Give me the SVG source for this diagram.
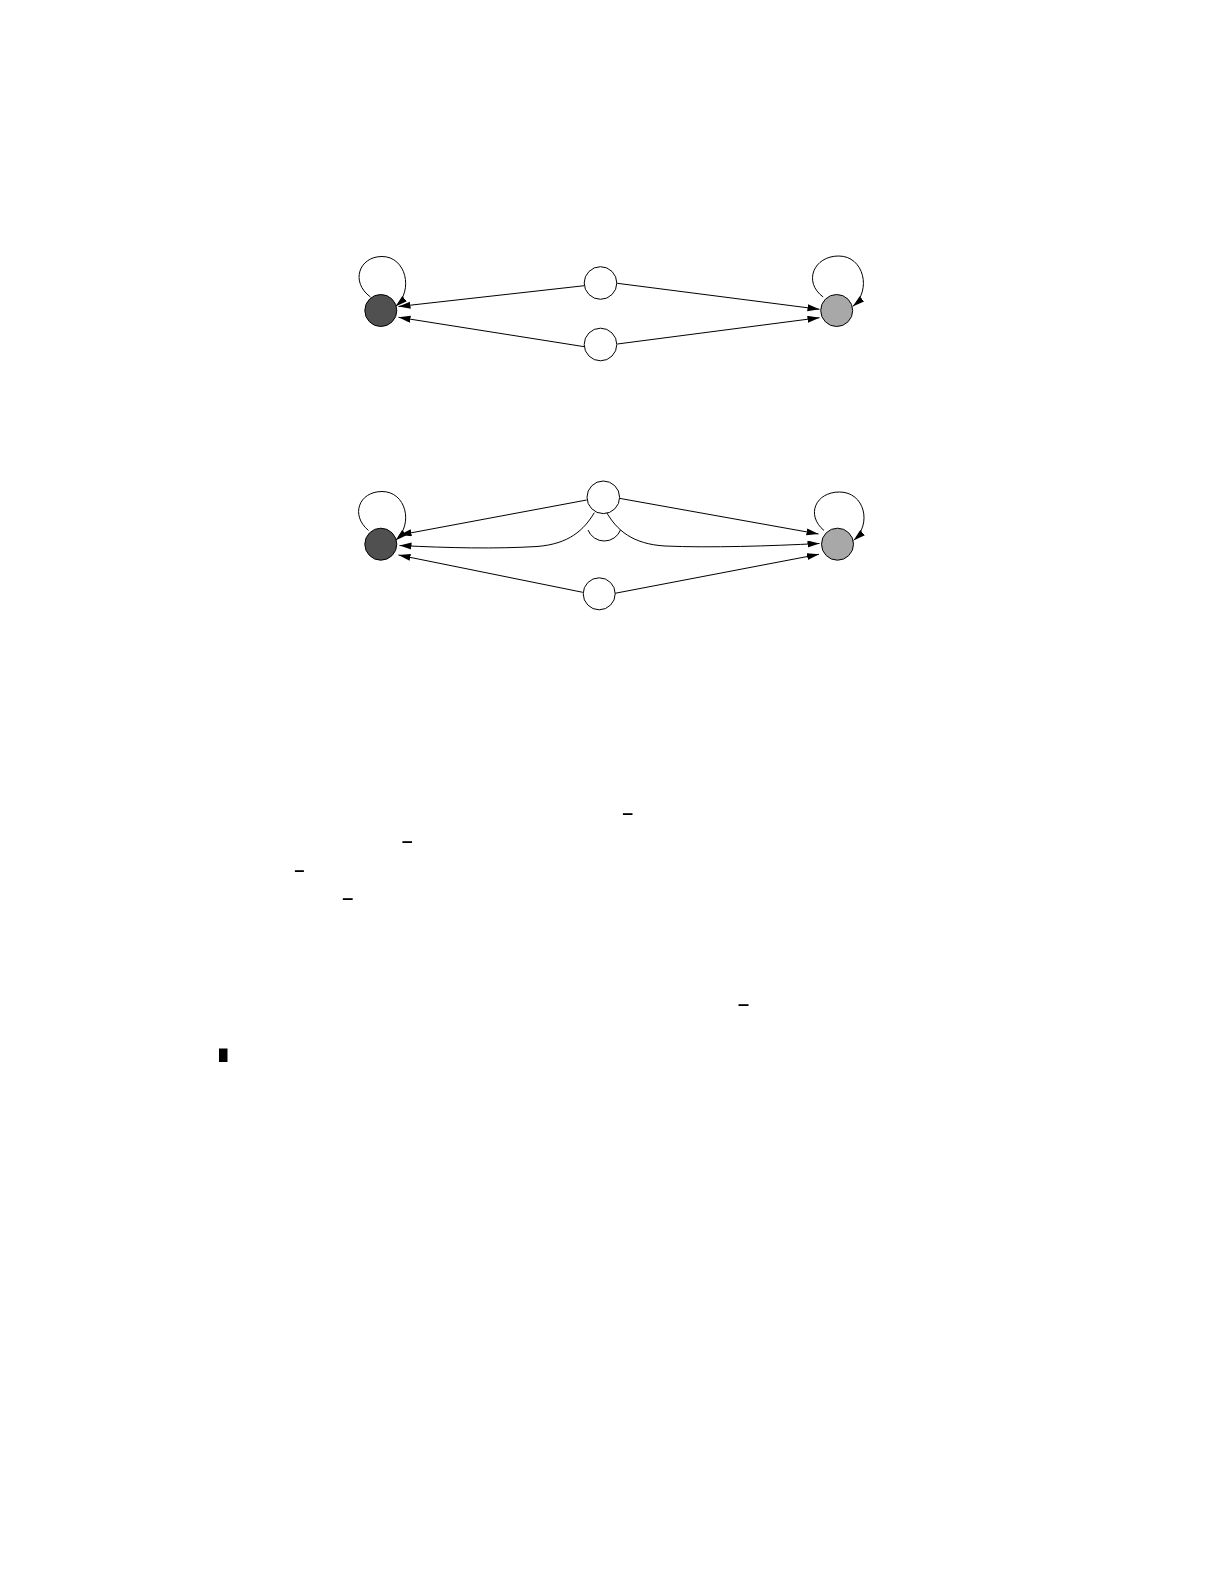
<svg xmlns="http://www.w3.org/2000/svg" width="1225" height="1585" viewBox="0 0 1225 1585">
<style>
.n{stroke:#000;stroke-width:1}
.w{fill:#fff}
.d{fill:#505050}
.l{fill:#a8a8a8}
.e{fill:none;stroke:#000;stroke-width:1}
.a{marker-end:url(#ah)}
.m{fill:#000}
</style>
<defs>
<marker id="ah" markerUnits="userSpaceOnUse" markerWidth="13" markerHeight="8" refX="12" refY="3.5" orient="auto">
<path d="M0,0 L12,3.5 L0,7 z" fill="#000"/>
</marker>
</defs>
<rect width="1225" height="1585" fill="#fff"/>
<g id="connectors">
<!-- diagram 1 -->
<path class="e a" d="M370.5,297 C350,282 359,256.5 382,256.5 C406,256.5 414,290.5 395.5,306.5"/>
<path class="e a" d="M823.2,297 C802.7,282 813.7,256 838.7,256 C864,256 872,290.5 852.7,306.5"/>
<path class="e a" d="M584.3,285.7 L398.5,306.5"/>
<path class="e a" d="M584.3,346.7 L398.5,317.3"/>
<path class="e a" d="M617.3,283.3 L819.5,309.3"/>
<path class="e a" d="M617.3,344 L819.5,317.7"/>
<!-- diagram 2 -->
<path class="e a" d="M368.5,530.5 C350,515 359,491.5 382,491.5 C406,491.5 414,524 395.5,540.5"/>
<path class="e a" d="M824,530.5 C805.5,515 815.5,492 839.5,492 C864.5,492 872.5,524 853.5,540.5"/>
<path class="e a" d="M586.7,500 L399.5,535"/>
<path class="e a" d="M594.3,512.7 C584,530 569,544 537,546.5 C495,549 450,548 399.5,545.5"/>
<path class="e a" d="M606.7,512.7 C617,530 632,544 665,546 C710,548 770,546 819.5,543.5"/>
<path class="e" d="M588,530 A17.5,17.5 0 0 0 620.5,530"/>
<path class="e a" d="M619.3,498.3 L818.5,534"/>
<path class="e a" d="M582.7,592.3 L398.5,555"/>
<path class="e a" d="M615,593.3 L819,554.3"/>
</g>
<g id="d1-dark"><circle class="n d" cx="380.8" cy="310.5" r="16"/></g>
<g id="d1-light"><circle class="n l" cx="836.7" cy="310.5" r="16"/></g>
<g id="d1-top"><circle class="n w" cx="600.5" cy="283" r="16.3"/></g>
<g id="d1-bottom"><circle class="n w" cx="600.5" cy="344.5" r="16.3"/></g>
<g id="d2-dark"><circle class="n d" cx="380.8" cy="544.2" r="16"/></g>
<g id="d2-light"><circle class="n l" cx="837.5" cy="544.2" r="16"/></g>
<g id="d2-top"><circle class="n w" cx="603.3" cy="497.3" r="16.3"/></g>
<g id="d2-bottom"><circle class="n w" cx="599.2" cy="593.8" r="16"/></g>
<g id="marks">
<rect class="m" x="622.9" y="813.2" width="9.6" height="1.8"/>
<rect class="m" x="402.4" y="841.2" width="9.6" height="1.8"/>
<rect class="m" x="294.9" y="870.2" width="9" height="1.8"/>
<rect class="m" x="342.8" y="898.2" width="9.9" height="1.8"/>
<rect class="m" x="738.5" y="1004.2" width="10" height="1.8"/>
<rect class="m" x="219" y="1048.5" width="8.5" height="13.5"/>
</g>
</svg>
